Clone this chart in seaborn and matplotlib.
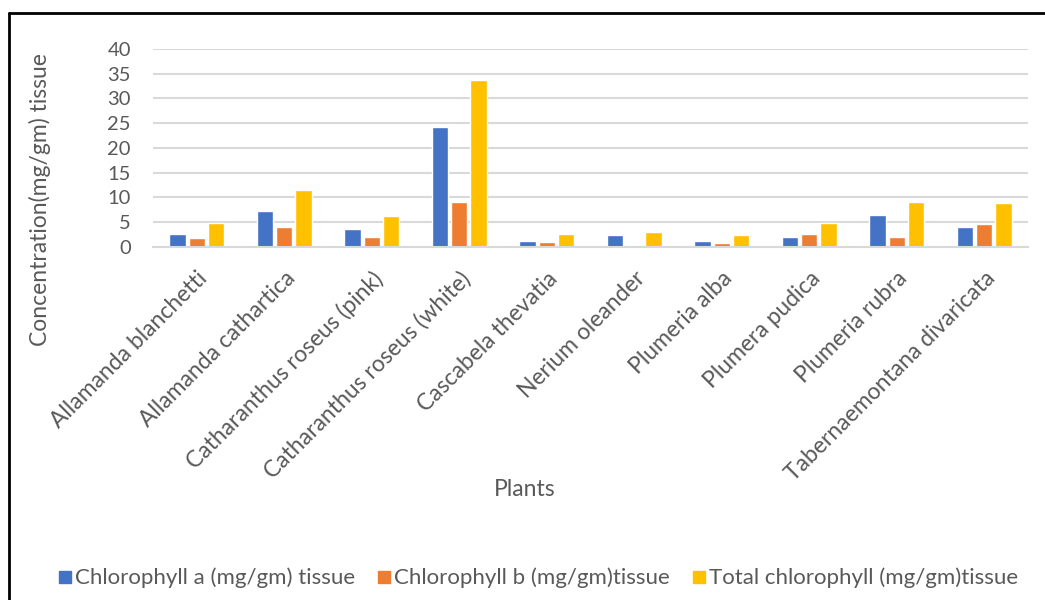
import matplotlib
matplotlib.use("Agg")
import matplotlib.pyplot as plt
from matplotlib.lines import Line2D
import pandas as pd
import seaborn as sns

plants = [
    "Allamanda blanchetti", "Allamanda cathartica", "Catharanthus roseus (pink)",
    "Catharanthus roseus (white)", "Cascabela thevatia", "Nerium oleander",
    "Plumeria alba", "Plumera pudica", "Plumeria rubra", "Tabernaemontana divaricata",
]
chl_a = [2.6, 7.3, 3.6, 24.3, 1.3, 2.4, 1.3, 2.0, 6.5, 4.1]
chl_b = [1.75, 4.1, 2.1, 9.0, 1.0, 0.0, 0.75, 2.6, 2.0, 4.6]
chl_total = [4.9, 11.6, 6.3, 33.7, 2.6, 3.0, 2.5, 4.9, 9.0, 8.8]
series_names = [
    "Chlorophyll a (mg/gm) tissue",
    "Chlorophyll b (mg/gm)tissue",
    "Total chlorophyll (mg/gm)tissue",
]
colors = ["#4472C4", "#ED7D31", "#FFC000"]
y_ticks = [0, 5, 10, 15, 20, 25, 30, 35, 40]

rows = []
for name, vals in zip(series_names, [chl_a, chl_b, chl_total]):
    for p, v in zip(plants, vals):
        rows.append({"Plant": p, "Series": name, "Value": v})
df = pd.DataFrame(rows)

sns.set_theme(style="white")
plt.rcParams["font.family"] = ["Lato", "DejaVu Sans"]
text_col = "#595959"

W, H = 1045, 600
fig = plt.figure(figsize=(W / 100, H / 100), dpi=100)
ax = fig.add_axes([153 / W, 1 - 247 / H, (1028 - 153) / W, (247 - 49) / H])

sns.barplot(data=df, x="Plant", y="Value", hue="Series", order=plants,
            hue_order=series_names, palette=colors, width=0.66, gap=0.15,
            saturation=1, ax=ax, legend=False)

ax.set_ylim(0, 40)
ax.set_xlim(-0.5, len(plants) - 0.5)
ax.set_yticks(y_ticks)
ax.set_yticklabels([str(t) for t in y_ticks], color=text_col, fontsize=14.5)
ax.grid(axis="y", color="#d9d9d9", linewidth=1.5)
ax.set_axisbelow(True)
for s in ["top", "right", "left"]:
    ax.spines[s].set_visible(False)
ax.spines["bottom"].set_color("#d9d9d9")
ax.spines["bottom"].set_linewidth(1.5)
ax.tick_params(axis="both", length=0)
ax.tick_params(axis="y", pad=16)
ax.set_xticks(range(len(plants)))
ax.set_xticklabels(plants, rotation=45, ha="right", rotation_mode="anchor",
                   color=text_col, fontsize=16.5)
ax.tick_params(axis="x", pad=15)
ax.set_xlabel("")
ax.set_ylabel("")

fig.text(40 / W, 1 - 200 / H, "Concentration(mg/gm) tissue", rotation=90,
         ha="center", va="center", color=text_col, fontsize=16.5)
fig.text(525 / W, 1 - 490 / H, "Plants", ha="center", va="center",
         color=text_col, fontsize=16.5)

handles = [Line2D([0], [0], marker="s", linestyle="none", markersize=8,
                  markerfacecolor=c, markeredgecolor=c) for c in colors]
fig.legend(handles, series_names, loc="center", ncol=3,
           bbox_to_anchor=(537 / W, 1 - 578 / H), frameon=False,
           handletextpad=0.05, columnspacing=0.9, handlelength=0.8,
           labelcolor=text_col, fontsize=16)

# chart frame (left and top edges)
fig.add_artist(Line2D([9 / W, 9 / W], [0, 1 - 13 / H], color="black",
                      linewidth=2, transform=fig.transFigure))
fig.add_artist(Line2D([9 / W, 1], [1 - 13 / H, 1 - 13 / H], color="black",
                      linewidth=2, transform=fig.transFigure))

fig.savefig("out.png", dpi=100, facecolor="white")
